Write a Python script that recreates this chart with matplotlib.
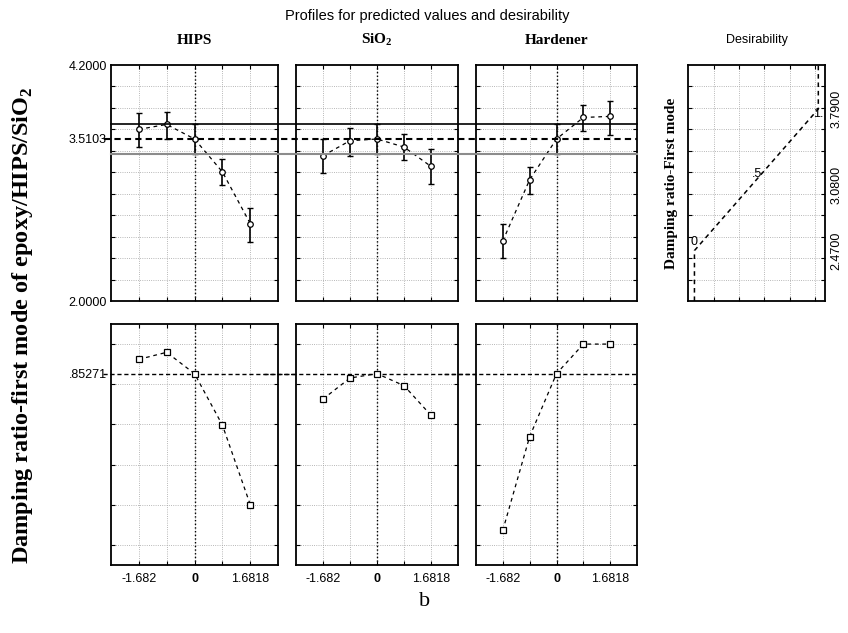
import matplotlib
matplotlib.use('Agg')
import matplotlib.pyplot as plt
import matplotlib.transforms as mtransforms
from matplotlib.lines import Line2D
import numpy as np

plt.rcParams['font.family'] = 'Liberation Sans'
plt.rcParams['mathtext.fontset'] = 'custom'
plt.rcParams['mathtext.rm'] = 'Liberation Serif'
plt.rcParams['mathtext.bf'] = 'Liberation Serif:bold'

# coded factor levels
levels = [-1.682, -0.841, 0.0, 0.841, 1.6818]
level_labels = ['-1.682', '', '0', '', '1.6818']
factor_names = ['HIPS', r'SiO$_\mathbf{2}$', 'Hardener']

# predicted damping ratio (first mode) with confidence limits
pred_hips = [3.600, 3.646, 3.5103, 3.204, 2.722]
low_hips = [3.438, 3.512, 3.366, 3.077, 2.551]
high_hips = [3.755, 3.758, 3.649, 3.322, 2.865]

pred_sio2 = [3.354, 3.494, 3.5103, 3.435, 3.254]
low_sio2 = [3.189, 3.354, 3.366, 3.313, 3.095]
high_sio2 = [3.512, 3.609, 3.649, 3.553, 3.413]

pred_hard = [2.560, 3.130, 3.5103, 3.711, 3.721]
low_hard = [2.401, 3.002, 3.366, 3.584, 3.550]
high_hard = [2.716, 3.245, 3.649, 3.827, 3.864]

# desirability profiles
desir_hips = [0.924, 0.959, 0.85271, 0.597, 0.201]
desir_sio2 = [0.726, 0.831, 0.85271, 0.793, 0.645]
desir_hard = [0.072, 0.539, 0.85271, 1.0, 1.0]

pred_current = 3.5103
ci_low = 3.366
ci_high = 3.649
desir_current = 0.85271

# desirability function of the response
dfun_x = [0, 0, 1, 1]
dfun_y = [2.0, 2.47, 3.79, 4.2]
dfun_marks = ['0', '.5', '1.']
dfun_mark_x = [0, 0.5, 1]
dfun_mark_y = [2.47, 3.13, 3.79]
dfun_ticks = [2.47, 3.08, 3.79]
dfun_ticklabels = ['2.4700', '3.0800', '3.7900']

preds = [pred_hips, pred_sio2, pred_hard]
lows = [low_hips, low_sio2, low_hard]
highs = [high_hips, high_sio2, high_hard]
desirs = [desir_hips, desir_sio2, desir_hard]

W, H = 848, 633
fig = plt.figure(figsize=(W / 100, H / 100), dpi=100)


def px_axes(x0, y0, x1, y1):
    return fig.add_axes([x0 / W, 1 - y1 / H, (x1 - x0) / W, (y1 - y0) / H])


def frame(ax):
    for s in ax.spines.values():
        s.set_linewidth(1.3)
    ax.tick_params(which='both', direction='in', top=True, right=True,
                   length=3, width=0.8, labelsize=9, pad=3)
    ax.grid(True, axis='x', which='major', ls=':', color='#a0a0a0', lw=0.6)
    ax.grid(True, axis='y', which='minor', ls=':', color='#a0a0a0', lw=0.6)
    ax.grid(False, axis='y', which='major')
    ax.tick_params(axis='y', which='major', length=0)


cols = [(111, 278), (296, 458), (476, 637)]
dash = (0, (3, 3))

top_axes = []
for i, (x0, x1) in enumerate(cols):
    # predicted values
    ax = px_axes(x0, 65, x1, 301)
    frame(ax)
    ax.set_xlim(-2.52, 2.52)
    ax.set_ylim(2.0, 4.2)
    ax.set_xticks(levels)
    ax.set_xticklabels([])
    ax.tick_params(axis='x', labelbottom=False)
    ax.set_yticks([2.0, pred_current, 4.2])
    ax.set_yticks(np.arange(2.2, 4.01, 0.2), minor=True)
    if i == 0:
        ax.set_yticklabels(['2.0000', '%.4f' % pred_current, '4.2000'])
    else:
        ax.set_yticklabels([])
    ax.axvline(0, color='black', ls=':', lw=1)
    p = np.array(preds[i])
    ax.errorbar(levels, p, yerr=[p - np.array(lows[i]), np.array(highs[i]) - p],
                fmt='none', ecolor='black', elinewidth=1.2, capsize=2.5, capthick=1.0, zorder=4)
    ax.plot(levels, p, color='black', ls=dash, lw=0.9, marker='o', ms=4,
            mfc='white', mec='black', mew=0.9, zorder=5)
    fig.text((x0 + x1) / 2 / W, 1 - 40 / H, factor_names[i], ha='center', va='center',
             family='Liberation Serif', fontweight='bold', fontsize=11)
    top_axes.append(ax)

    # desirability
    bx = px_axes(x0, 324, x1, 565)
    frame(bx)
    bx.set_xlim(-2.52, 2.52)
    bx.set_ylim(-0.1, 1.1)
    bx.set_xticks(levels)
    bx.set_xticklabels(level_labels)
    bx.get_xticklabels()[2].set_fontweight('bold')
    bx.tick_params(axis='x', pad=6)
    bx.set_yticks([desir_current])
    bx.set_yticks(np.arange(0, 1.01, 0.2), minor=True)
    bx.set_yticklabels(['.85271'] if i == 0 else [])
    bx.axvline(0, color='black', ls=':', lw=1)
    bx.axhline(desir_current, color='black', ls=(0, (3, 2)), lw=1.0,
               xmin=-0.2 if i else -0.05, xmax=1.2 if i < 2 else 1.0, clip_on=False)
    bx.plot(levels, desirs[i], color='black', ls=dash, lw=0.9, marker='s', ms=4.5,
            mfc='white', mec='black', mew=0.9, zorder=5)

# reference lines running across the top row
tr = mtransforms.blended_transform_factory(fig.transFigure, top_axes[0].transData)
fig.add_artist(Line2D([111 / W, 637 / W], [ci_high, ci_high], transform=tr,
                      color='black', lw=1.2))
fig.add_artist(Line2D([111 / W, 637 / W], [ci_low, ci_low], transform=tr,
                      color='#8c8c8c', lw=1.5))
fig.add_artist(Line2D([104 / W, 637 / W], [pred_current, pred_current], transform=tr,
                      color='black', lw=1.5, ls=(0, (3, 2))))

# desirability function panel
dx = px_axes(688, 65, 825, 301)
frame(dx)
dx.set_xlim(-0.052, 1.054)
dx.set_ylim(2.0, 4.2)
dx.set_xticks([0.155, 0.36, 0.565, 0.77, 0.975])
dx.set_xticklabels([])
dx.set_yticks(dfun_ticks)
dx.set_yticks(np.arange(2.2, 4.01, 0.2), minor=True)
dx.set_yticklabels(dfun_ticklabels, rotation=90, va='center')
dx.tick_params(axis='y', which='major', labelleft=False, labelright=True, pad=4)
dx.plot(dfun_x, dfun_y, color='black', ls=(0, (3, 2.5)), lw=1.1)
mark_offsets = [(-3, 2), (-3, 0), (-4, -8)]
for t, x, y, off in zip(dfun_marks, dfun_mark_x, dfun_mark_y, mark_offsets):
    dx.annotate(t, (x, y), textcoords='offset points', xytext=off,
                fontsize=9, ha='left', va='bottom')
dx.set_ylabel('Damping ratio-First mode', family='Liberation Serif',
              fontweight='bold', fontsize=11, labelpad=4)
fig.text(757 / W, 1 - 40 / H, 'Desirability', ha='center', va='center', fontsize=9)

fig.text(427 / W, 1 - 16 / H, 'Profiles for predicted values and desirability',
         ha='center', va='center', fontsize=10.5)
fig.text(23 / W, 1 - 325 / H, r'Damping ratio-first mode of epoxy/HIPS/SiO$_\mathbf{2}$',
         rotation=90, ha='center', va='center', family='Liberation Serif',
         fontweight='bold', fontsize=17.5)
fig.text(425 / W, 1 - 602 / H, 'b', ha='center', va='center',
         family='Liberation Serif', fontsize=16)

fig.savefig('out.png', dpi=100)
